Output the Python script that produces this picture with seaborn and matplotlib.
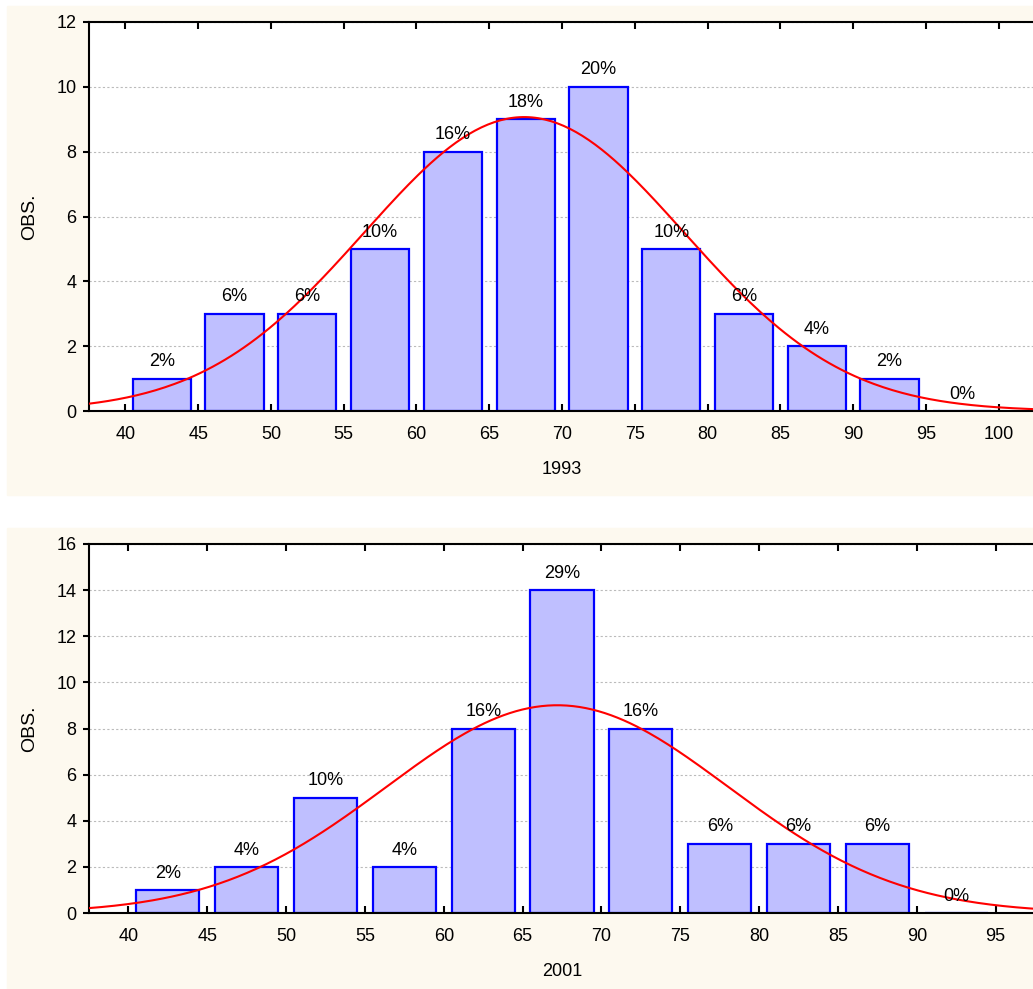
import numpy as np
import matplotlib
matplotlib.use('Agg')
import matplotlib.pyplot as plt
import seaborn as sns
from matplotlib.patches import Rectangle

# bin centers (5-wide bins) and counts
centers_1993 = [42.5, 47.5, 52.5, 57.5, 62.5, 67.5, 72.5, 77.5, 82.5, 87.5, 92.5, 97.5]
counts_1993 = [1, 3, 3, 5, 8, 9, 10, 5, 3, 2, 1, 0]
pct_1993 = ['2%', '6%', '6%', '10%', '16%', '18%', '20%', '10%', '6%', '4%', '2%', '0%']
mean_1993, sd_1993 = 67.4, 11.0

centers_2001 = [42.5, 47.5, 52.5, 57.5, 62.5, 67.5, 72.5, 77.5, 82.5, 87.5, 92.5]
counts_2001 = [1, 2, 5, 2, 8, 14, 8, 3, 3, 3, 0]
pct_2001 = ['2%', '4%', '10%', '4%', '16%', '29%', '16%', '6%', '6%', '6%', '0%']
mean_2001, sd_2001 = 67.2, 10.85

BIN_W = 5
CREAM = '#FDF9EF'
BAR_FILL = '#BFBFFF'
BAR_EDGE = '#0000FF'

sns.set_style("white")
plt.rcParams['font.family'] = ['Liberation Sans', 'DejaVu Sans']
plt.rcParams['text.color'] = 'black'
plt.rcParams['axes.labelcolor'] = 'black'
plt.rcParams['xtick.color'] = 'black'
plt.rcParams['ytick.color'] = 'black'

fig = plt.figure(figsize=(10.33, 9.89), dpi=100)
fig.patch.set_facecolor('white')

# cream panels behind each chart
fig.patches.append(Rectangle((7 / 1033, 1 - 495 / 989), 1, (495 - 6) / 989,
                             transform=fig.transFigure, color=CREAM, zorder=-10))
fig.patches.append(Rectangle((7 / 1033, 0), 1, (989 - 528) / 989,
                             transform=fig.transFigure, color=CREAM, zorder=-10))

left = 89 / 1033
width = 1 - left + 0.002
ax1 = fig.add_axes([left, 1 - 411 / 989, width, (411 - 22) / 989])
ax2 = fig.add_axes([left, 1 - 913 / 989, width, (913 - 544) / 989])


def draw_panel(ax, centers, counts, pct, mean, sd, xlim, ymax, xlabel):
    edges = [c - BIN_W / 2 for c in centers] + [centers[-1] + BIN_W / 2]
    sns.histplot(x=centers, weights=counts, bins=edges, shrink=0.8, ax=ax,
                 color=BAR_FILL, edgecolor=BAR_EDGE, linewidth=1.6, alpha=1, zorder=2)
    # fitted normal curve, scaled to counts
    xs = np.linspace(xlim[0], xlim[1], 300)
    n = sum(counts)
    ys = n * BIN_W / (sd * np.sqrt(2 * np.pi)) * np.exp(-0.5 * ((xs - mean) / sd) ** 2)
    sns.lineplot(x=xs, y=ys, ax=ax, color='#FF0000', linewidth=1.5, zorder=4)
    for c, h, t in zip(centers, counts, pct):
        ax.annotate(t, (c, h), xytext=(0, 6), textcoords='offset points',
                    ha='center', va='bottom', fontsize=13, zorder=5)
    ax.set_xlim(*xlim)
    ax.set_ylim(0, ymax)
    ax.set_xticks(np.arange(40, xlim[1], 5))
    ax.set_yticks(np.arange(0, ymax + 1, 2))
    ax.set_facecolor('white')
    ax.yaxis.grid(True, linestyle=(0, (2, 2)), color='#BBBBBB', linewidth=0.8)
    ax.set_axisbelow(True)
    for s in ax.spines.values():
        s.set_visible(True)
        s.set_color('black')
        s.set_linewidth(1.5)
    ax.tick_params(axis='x', direction='in', top=True, bottom=True, length=5,
                   width=1.5, labelsize=13, pad=11)
    ax.tick_params(axis='y', direction='out', left=True, right=False, length=4,
                   width=1.5, labelsize=13, pad=5)
    ax.set_xlabel(xlabel, fontsize=13, labelpad=13)
    ax.set_ylabel('OBS.', fontsize=14, labelpad=13)


draw_panel(ax1, centers_1993, counts_1993, pct_1993, mean_1993, sd_1993,
           (37.5, 102.5), 12, '1993')
draw_panel(ax2, centers_2001, counts_2001, pct_2001, mean_2001, sd_2001,
           (37.5, 97.5), 16, '2001')

fig.savefig('out.png', dpi=100, facecolor=fig.get_facecolor())
